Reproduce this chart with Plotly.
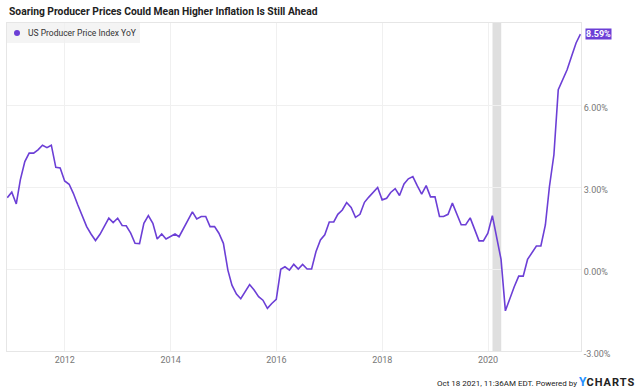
import pandas as pd
import plotly.graph_objects as go

# Monthly US PPI YoY (%), month-end dates Nov 2010 .. Sep 2021
start_date = "2010-11-30"
ppi_yoy = [
    2.61,
    2.81, 2.38, 3.26, 3.93, 4.24, 4.24, 4.36, 4.53, 4.44, 4.53, 3.72, 3.70,
    3.22, 3.10, 2.77, 2.34, 1.94, 1.55, 1.28, 1.04, 1.27, 1.55, 1.86, 1.70,
    1.86, 1.59, 1.58, 1.31, 0.94, 0.93, 1.67, 1.95, 1.67, 1.10, 1.28, 1.10,
    1.20, 1.28, 1.18, 1.49, 1.79, 2.09, 1.83, 1.92, 1.92, 1.55, 1.55, 1.31,
    0.94, -0.04, -0.59, -0.92, -1.09, -0.83, -0.57, -0.77, -1.01, -1.14, -1.44, -1.26,
    -1.11, -0.01, 0.08, -0.04, 0.17, 0.00, 0.17, 0.00, 0.00, 0.63, 1.06, 1.25,
    1.72, 1.72, 2.00, 2.16, 2.43, 2.25, 1.89, 2.00, 2.44, 2.63, 2.81, 2.98,
    2.53, 2.59, 2.80, 2.94, 2.69, 3.11, 3.30, 3.38, 3.04, 2.74, 3.05, 2.64,
    2.64, 1.92, 1.92, 2.00, 2.41, 2.04, 1.62, 1.62, 1.87, 1.46, 1.03, 1.03,
    1.31, 1.95, 1.18, 0.35, -1.53, -1.07, -0.65, -0.26, -0.26, 0.35, 0.60, 0.84,
    0.84, 1.61, 3.01, 4.18, 6.56, 6.92, 7.29, 7.78, 8.27, 8.59,
]
dates = pd.date_range(start_date, periods=len(ppi_yoy), freq="ME")

series_name = "US Producer Price Index YoY"
title_text = "Soaring Producer Prices Could Mean Higher Inflation Is Still Ahead"
footer_text = "Oct 18 2021, 11:36AM EDT. Powered by "
recession = ("2020-02-01", "2020-04-01")
x_ticks = ["2012-01-01", "2014-01-01", "2016-01-01", "2018-01-01", "2020-01-01"]
x_tick_labels = ["2012", "2014", "2016", "2018", "2020"]
y_ticks = [-3, 0, 3, 6]
y_tick_labels = [f"{v:.2f}%" for v in y_ticks]
x_range = ["2010-11-28", "2021-10-04"]
y_range = [-3, 9]

PURPLE = "#6c3fd6"
FONT = "Roboto"

fig = go.Figure()
fig.add_trace(go.Scatter(
    x=dates, y=ppi_yoy, mode="lines", line=dict(color=PURPLE, width=1.6),
    showlegend=False, hoverinfo="skip",
))

fig.add_vrect(x0=recession[0], x1=recession[1], fillcolor="#dcdcdc",
              opacity=0.9, line_width=0, layer="below")

# legend box (drawn manually for exact placement)
fig.add_shape(type="rect", xref="paper", yref="paper", xsizemode="pixel", ysizemode="pixel",
              xanchor=0, yanchor=1, x0=0, x1=133, y0=0, y1=-20,
              fillcolor="#f4f4f4", line_width=0, layer="below")
fig.add_shape(type="circle", xref="paper", yref="paper", xsizemode="pixel", ysizemode="pixel",
              xanchor=0, yanchor=1, x0=7, x1=13, y0=-7, y1=-13,
              fillcolor=PURPLE, line_width=0)
fig.add_annotation(xref="paper", yref="paper", x=0, y=1, xanchor="left", yanchor="middle",
                   xshift=19, yshift=-10, text=series_name, showarrow=False,
                   font=dict(size=8.5, color="#333", family=FONT))

# last value label
last_x, last_y = dates[-1], ppi_yoy[-1]
fig.add_shape(type="path", xref="x", yref="y", xsizemode="pixel", ysizemode="pixel",
              xanchor=last_x, yanchor=last_y,
              path="M 1 0 L 6 -5 L 6 5 Z", fillcolor=PURPLE, line_width=0)
fig.add_annotation(x=last_x, y=last_y, xref="x", yref="y", text=f"<b>{last_y:.2f}%</b>",
                   showarrow=False, xanchor="left", yanchor="middle", xshift=5,
                   bgcolor=PURPLE, font=dict(color="white", size=9, family=FONT),
                   borderpad=0)

fig.add_annotation(xref="paper", yref="paper", x=0, y=1, xanchor="left", yanchor="middle",
                   yshift=12, xshift=0, text=f"<b>{title_text}</b>", showarrow=False,
                   font=dict(size=10.3, color="#222", family=FONT))
fig.add_annotation(xref="paper", yref="paper", x=1, y=0, xanchor="right", yanchor="middle",
                   xshift=56, yshift=-31,
                   text=footer_text + "<span style='color:#1e90ff;font-size:12px'><b>Y</b></span>"
                        "<span style='font-size:11px;letter-spacing:1px'><b>CHARTS</b></span>",
                   showarrow=False, font=dict(size=8, color="#222", family=FONT))

fig.update_layout(
    width=640, height=392, margin=dict(l=7, r=59, t=23, b=41),
    paper_bgcolor="white", plot_bgcolor="white",
    font=dict(family=FONT, color="#666", size=9),
    showlegend=False,
    xaxis=dict(range=x_range, tickvals=x_ticks, ticktext=x_tick_labels,
               showgrid=True, gridcolor="#f0f0f0", gridwidth=1,
               showline=True, linecolor="#e6e6e6", mirror=True, zeroline=False,
               ticks="", tickfont=dict(size=9, color="#777")),
    yaxis=dict(range=y_range, tickvals=y_ticks, ticktext=y_tick_labels, side="right",
               showgrid=True, gridcolor="#f0f0f0", gridwidth=1,
               showline=True, linecolor="#e6e6e6", mirror=True, zeroline=False,
               ticks="", ticklabelshift=3, tickfont=dict(size=9, color="#777")),
)

fig.write_html("out.html", post_script="document.body.style.margin='0';",
               config={"displayModeBar": False})
